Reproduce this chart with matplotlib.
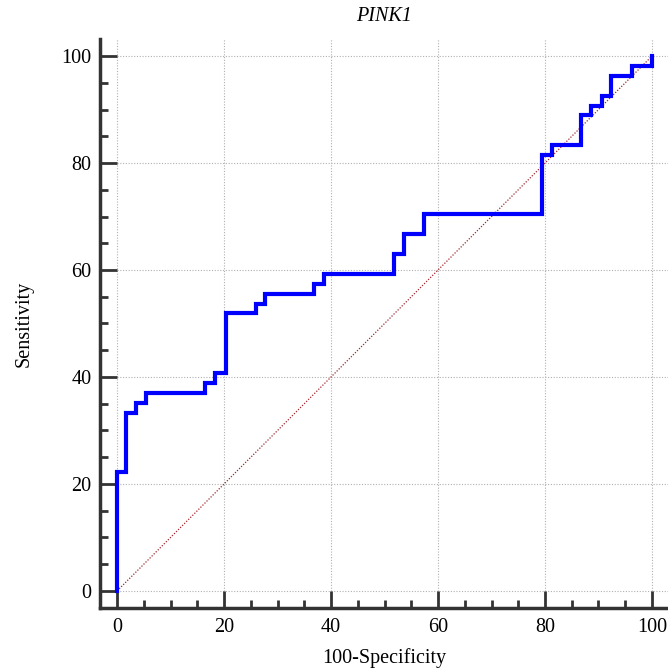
import matplotlib
matplotlib.use('Agg')
import matplotlib.pyplot as plt
from matplotlib.ticker import MultipleLocator

# ROC step points (100-specificity, sensitivity)
fpr = [0, 0, 1.7, 1.7, 3.6, 3.6, 5.4, 5.4, 16.5, 16.5, 18.3, 18.3, 20.4, 20.4,
       25.9, 25.9, 27.6, 27.6, 36.9, 36.9, 38.7, 38.7, 51.8, 51.8, 53.6, 53.6,
       57.3, 57.3, 79.4, 79.4, 81.3, 81.3, 86.8, 86.8, 88.6, 88.6, 90.6, 90.6,
       92.4, 92.4, 96.2, 96.2, 100, 100]
tpr = [0, 22.2, 22.2, 33.3, 33.3, 35.2, 35.2, 37.0, 37.0, 38.9, 38.9, 40.7, 40.7, 51.9,
       51.9, 53.7, 53.7, 55.6, 55.6, 57.4, 57.4, 59.3, 59.3, 63.0, 63.0, 66.7,
       66.7, 70.4, 70.4, 81.5, 81.5, 83.3, 83.3, 88.9, 88.9, 90.7, 90.7, 92.6,
       92.6, 96.3, 96.3, 98.1, 98.1, 100]
major_ticks = [0, 20, 40, 60, 80, 100]
title = 'PINK1'

plt.rcParams['font.family'] = ['Liberation Serif', 'DejaVu Serif']

fig = plt.figure(figsize=(6.68, 6.69), dpi=100)
ax = fig.add_axes([0.1497, 0.0912, 0.8503, 0.8505])
xmax, ymax = 103.0, 103.2
ax.set_xlim(-3.2, xmax)
ax.set_ylim(-3.2, ymax)

# grid lines start at 0 and run out to the axes edge
for t in major_ticks:
    ax.plot([0, xmax], [t, t], color='#b0b0b0', lw=0.8, ls=(0, (1, 1.5)), zorder=1)
    ax.plot([t, t], [0, ymax], color='#b0b0b0', lw=0.8, ls=(0, (1, 1.5)), zorder=1)

ax.plot([0, 100], [0, 100], color='#a0282d', lw=0.9, ls=(0, (1, 1.3)), zorder=2)
ax.plot(fpr, tpr, color='#0000ff', lw=3, solid_joinstyle='miter', zorder=3)

for s in ['top', 'right']:
    ax.spines[s].set_visible(False)
for s in ['left', 'bottom']:
    ax.spines[s].set_linewidth(2.5)
    ax.spines[s].set_color('#333333')

ax.set_xticks(major_ticks)
ax.set_yticks(major_ticks)
ax.xaxis.set_minor_locator(MultipleLocator(5))
ax.yaxis.set_minor_locator(MultipleLocator(5))
ax.tick_params(which='major', direction='in', length=12.5, width=2, color='#333333',
               labelsize=14.5, pad=6)
ax.tick_params(which='minor', direction='in', length=6, width=2, color='#333333')
ax.tick_params(axis='x', which='major', pad=7)

ax.set_xlabel('100-Specificity', fontsize=14.5, labelpad=8)
ax.set_ylabel('Sensitivity', fontsize=14.5, labelpad=20)
ax.text(50, 107.5, title, ha='center', va='center', fontsize=14.5, style='italic',
        clip_on=False)

fig.savefig('out.png', dpi=100)
